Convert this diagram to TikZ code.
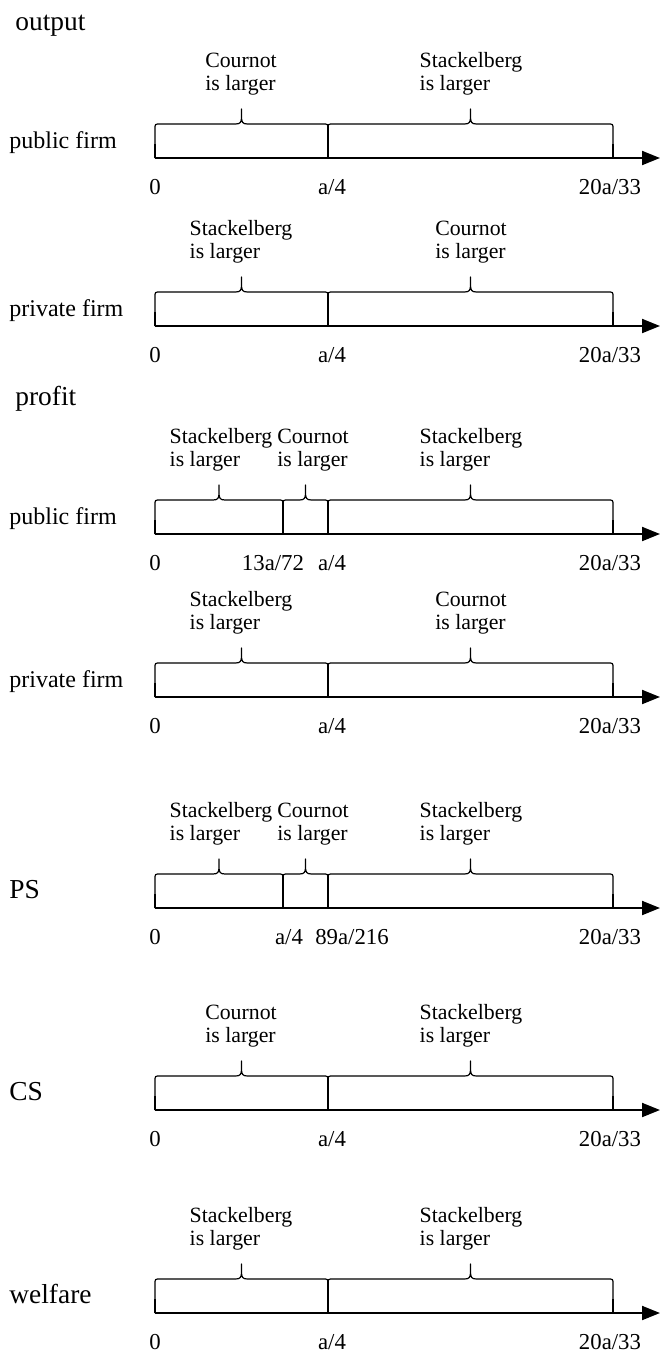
\documentclass[tikz,border=0pt]{standalone}
\usepackage{fontspec}
\setmainfont{Liberation Serif}
\usetikzlibrary{arrows.meta}

\tikzset{
  axisline/.style={line width=1pt,-{Triangle[length=9pt,width=7pt]}},
  bracket/.style={line width=0.6pt,line join=round},
  tickmark/.style={line width=1pt},
  heading/.style={font=\fontsize{13.7}{16}\selectfont,anchor=base west,inner sep=0pt},
  rowlabel/.style={font=\fontsize{12}{14}\selectfont,anchor=base west,inner sep=0pt},
  cmplabel/.style={font=\fontsize{10.9}{11.5}\selectfont,align=left,inner sep=0pt},
  ticklabel/.style={font=\fontsize{11.4}{13}\selectfont,anchor=base,inner sep=0pt}
}

% axis of one row, #1 = height of the axis
\newcommand{\cmpaxis}[1]{\draw[axisline] (155,#1) -- (660,#1);}
% curly bracket from #1 to #2 over the axis at #3
\newcommand{\cmpbrace}[3]{%
  \draw[bracket] (#1,#3) -- (#1,#3-29) .. controls (#1,#3-34) .. (#1+5,#3-34)
    -- ({(#1+#2)/2-6},#3-34) .. controls ({(#1+#2)/2-1},#3-34) and ({(#1+#2)/2},#3-36) .. ({(#1+#2)/2},#3-41)
    -- ({(#1+#2)/2},#3-49) -- ({(#1+#2)/2},#3-41)
    .. controls ({(#1+#2)/2},#3-36) and ({(#1+#2)/2+1},#3-34) .. ({(#1+#2)/2+6},#3-34)
    -- (#2-5,#3-34) .. controls (#2,#3-34) .. (#2,#3-29) -- (#2,#3);}

\begin{document}
\begin{tikzpicture}[x=0.5pt,y=-0.5pt]
\useasboundingbox (0,0) rectangle (661,1351);

% output
\node[heading] (output) at (15,30) {output};

\node[rowlabel] (outpub) at (9,148) {public firm};
\cmpbrace{155}{328}{158}
\cmpbrace{328}{613}{158}
\cmpaxis{158}
\draw[tickmark] (155,158) -- (155,144) (613,158) -- (613,144) (328,158) -- (328,124);
\node[cmplabel] (outpub-c) at (241,74) {Cournot\\is larger};
\node[cmplabel] (outpub-s) at (471,74) {Stackelberg\\is larger};
\node[ticklabel] (outpub-0) at (155,194) {0};
\node[ticklabel] (outpub-a) at (332,194) {a/4};
\node[ticklabel] (outpub-b) at (610,194) {20a/33};

\node[rowlabel] (outpri) at (9,316) {private firm};
\cmpbrace{155}{328}{326}
\cmpbrace{328}{613}{326}
\cmpaxis{326}
\draw[tickmark] (155,326) -- (155,312) (613,326) -- (613,312) (328,326) -- (328,292);
\node[cmplabel] (outpri-s) at (241,242) {Stackelberg\\is larger};
\node[cmplabel] (outpri-c) at (471,242) {Cournot\\is larger};
\node[ticklabel] (outpri-0) at (155,362) {0};
\node[ticklabel] (outpri-a) at (332,362) {a/4};
\node[ticklabel] (outpri-b) at (610,362) {20a/33};

% profit
\node[heading] (profit) at (15,405) {profit};

\node[rowlabel] (propub) at (9,524) {public firm};
\cmpbrace{155}{283}{534}
\cmpbrace{283}{328}{534}
\cmpbrace{328}{613}{534}
\cmpaxis{534}
\draw[tickmark] (155,534) -- (155,520) (613,534) -- (613,520) (283,534) -- (283,500) (328,534) -- (328,500);
\node[cmplabel] (propub-s) at (221,450) {Stackelberg\\is larger};
\node[cmplabel] (propub-c) at (313,450) {Cournot\\is larger};
\node[cmplabel] (propub-t) at (471,450) {Stackelberg\\is larger};
\node[ticklabel] (propub-0) at (155,570) {0};
\node[ticklabel] (propub-m) at (273,570) {13a/72};
\node[ticklabel] (propub-a) at (332,570) {a/4};
\node[ticklabel] (propub-b) at (610,570) {20a/33};

\node[rowlabel] (propri) at (9,687) {private firm};
\cmpbrace{155}{328}{697}
\cmpbrace{328}{613}{697}
\cmpaxis{697}
\draw[tickmark] (155,697) -- (155,683) (613,697) -- (613,683) (328,697) -- (328,663);
\node[cmplabel] (propri-s) at (241,613) {Stackelberg\\is larger};
\node[cmplabel] (propri-c) at (471,613) {Cournot\\is larger};
\node[ticklabel] (propri-0) at (155,733) {0};
\node[ticklabel] (propri-a) at (332,733) {a/4};
\node[ticklabel] (propri-b) at (610,733) {20a/33};

% PS
\node[heading] (ps) at (9,898) {PS};
\cmpbrace{155}{283}{908}
\cmpbrace{283}{328}{908}
\cmpbrace{328}{613}{908}
\cmpaxis{908}
\draw[tickmark] (155,908) -- (155,894) (613,908) -- (613,894) (283,908) -- (283,874) (328,908) -- (328,874);
\node[cmplabel] (ps-s) at (221,824) {Stackelberg\\is larger};
\node[cmplabel] (ps-c) at (313,824) {Cournot\\is larger};
\node[cmplabel] (ps-t) at (471,824) {Stackelberg\\is larger};
\node[ticklabel] (ps-0) at (155,944) {0};
\node[ticklabel] (ps-a) at (289,944) {a/4};
\node[ticklabel] (ps-m) at (352,944) {89a/216};
\node[ticklabel] (ps-b) at (610,944) {20a/33};

% CS
\node[heading] (cs) at (9,1100) {CS};
\cmpbrace{155}{328}{1110}
\cmpbrace{328}{613}{1110}
\cmpaxis{1110}
\draw[tickmark] (155,1110) -- (155,1096) (613,1110) -- (613,1096) (328,1110) -- (328,1076);
\node[cmplabel] (cs-c) at (241,1026) {Cournot\\is larger};
\node[cmplabel] (cs-s) at (471,1026) {Stackelberg\\is larger};
\node[ticklabel] (cs-0) at (155,1146) {0};
\node[ticklabel] (cs-a) at (332,1146) {a/4};
\node[ticklabel] (cs-b) at (610,1146) {20a/33};

% welfare
\node[heading] (welfare) at (9,1303) {welfare};
\cmpbrace{155}{328}{1313}
\cmpbrace{328}{613}{1313}
\cmpaxis{1313}
\draw[tickmark] (155,1313) -- (155,1299) (613,1313) -- (613,1299) (328,1313) -- (328,1279);
\node[cmplabel] (wf-s) at (241,1229) {Stackelberg\\is larger};
\node[cmplabel] (wf-t) at (471,1229) {Stackelberg\\is larger};
\node[ticklabel] (wf-0) at (155,1349) {0};
\node[ticklabel] (wf-a) at (332,1349) {a/4};
\node[ticklabel] (wf-b) at (610,1349) {20a/33};
\end{tikzpicture}
\end{document}
